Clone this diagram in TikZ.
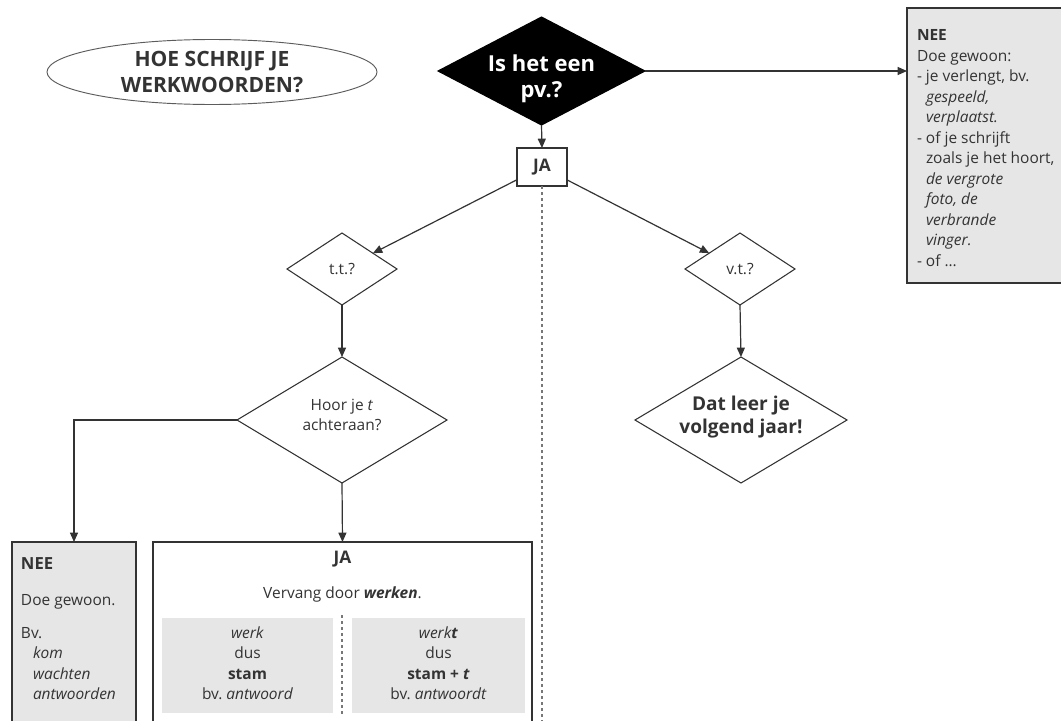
\documentclass[tikz,border=0pt]{standalone}
\usepackage{fontspec}
\setmainfont{Open Sans}
\usetikzlibrary{shapes.geometric,arrows.meta}
\definecolor{ink}{HTML}{333333}
\definecolor{boxfill}{HTML}{E6E6E6}
\definecolor{dashcol}{HTML}{777777}
\begin{document}
\begin{tikzpicture}[x=0.75pt,y=-0.75pt,
  every node/.style={inner sep=0pt, outer sep=0pt, text=ink},
  conn/.style={draw=ink, line width=0.9pt, -{Triangle[length=7pt,width=6pt]}},
  dia/.style={shape=diamond, draw=ink, line width=0.8pt, fill=white},
  boxn/.style={rectangle, draw=ink, line width=1pt, anchor=north west},
  greybox/.style={rectangle, fill=boxfill, anchor=north west},
  dashln/.style={draw=dashcol, line width=1.1pt, dash pattern=on 2.5pt off 2pt},
  txt/.style={font=\fontsize{11.6}{15.4}\selectfont, align=center},
  ltxt/.style={font=\fontsize{11.6}{15.4}\selectfont, anchor=base west},
  bigb/.style={font=\bfseries\fontsize{12.5}{15}\selectfont}
]
\useasboundingbox (0,0) rectangle (1061,721);
\fill[white] (0,0) rectangle (1061,721);
\clip (0,0) rectangle (1061,721);

% title
\node[ellipse, draw=ink!80, line width=0.7pt, minimum width=247.5pt, minimum height=48.75pt,
  font=\bfseries\fontsize{15.8}{19.5}\selectfont, align=center] (title) at (212,72) {HOE SCHRIJF JE\\WERKWOORDEN?};

% top decision
\node[dia, fill=black, draw=black, minimum width=155.25pt, minimum height=81pt] (pv) at (541.5,71) {};
\node[font=\bfseries\fontsize{16.5}{19.5}\selectfont, text=white, align=center] (pvt) at (541.5,79) {Is het een\\pv.?};

% JA small box
\node[rectangle, draw=ink, line width=1pt, fill=white, minimum width=37.5pt, minimum height=28.5pt,
  font=\bfseries\fontsize{13}{15}\selectfont] (ja) at (542,167) {JA};

% NEE right box
\node[boxn, fill=boxfill, minimum width=126pt, minimum height=206.25pt] (neer) at (907,8) {};
\node[txt, align=left, anchor=north west] (neert) at (917,29.5) {\textbf{NEE}\\Doe gewoon:\\- je verlengt, bv.\\\hphantom{- }\textit{gespeeld,}\\\hphantom{- }\textit{verplaatst.}\\- of je schrijft\\\hphantom{- }zoals je het hoort,\\\hphantom{- }\textit{de vergrote}\\\hphantom{- }\textit{foto, de}\\\hphantom{- }\textit{verbrande}\\\hphantom{- }\textit{vinger.}\\- of \dots};

% t.t. and v.t.
\node[dia, minimum width=82.5pt, minimum height=54pt] (tt) at (342,269) {};
\node[txt] (ttt) at (342,269) {t.t.?};
\node[dia, minimum width=82.5pt, minimum height=54pt] (vt) at (740,269) {};
\node[txt] (vtt) at (740,269) {v.t.?};

% Hoor je t
\node[dia, minimum width=157.5pt, minimum height=94.5pt] (hoor) at (342,420) {};
\node[txt] (hoort) at (342,415) {Hoor je \textit{t}\\achteraan?};

% Dat leer je
\node[dia, minimum width=159pt, minimum height=94.5pt] (dat) at (741,420) {};
\node[font=\bfseries\fontsize{14.3}{17.3}\selectfont, align=center] (datt) at (741,417) {Dat leer je\\volgend jaar!};

% bottom boxes
\node[boxn, fill=boxfill, minimum width=93pt, minimum height=141pt] (neel) at (12,542) {};
\node[boxn, fill=white, minimum width=284.25pt, minimum height=141pt] (jab) at (153,542) {};

\node[bigb, anchor=base west] (nl1) at (21,569) {NEE};
\node[ltxt] (nl2) at (21,605) {Doe gewoon.};
\node[ltxt] (nl3) at (21,638) {Bv.};
\node[ltxt] (nl4) at (33,658) {\textit{kom}};
\node[ltxt] (nl5) at (33,679) {\textit{wachten}};
\node[ltxt] (nl6) at (33,699) {\textit{antwoorden}};

\node[font=\bfseries\fontsize{13}{15}\selectfont, anchor=base] (jab1) at (342.5,563) {JA};
\node[txt, anchor=base] (jab2) at (342.5,598) {Vervang door \textbf{\textit{werken}}.};

\node[greybox, minimum width=128.25pt, minimum height=71.25pt] (gl) at (162,618) {};
\node[greybox, minimum width=129.75pt, minimum height=71.25pt] (gr) at (352,618) {};
\coordinate (dvt) at (342,615);
\coordinate (dvb) at (342,714);
\draw[dashln] (dvt) -- (dvb);

\node[txt, anchor=north] (glt) at (247.5,626.5) {\textit{werk}\\dus\\\textbf{stam}\\bv.~\textit{antwoord}};
\node[txt, anchor=north] (grt) at (438.5,626.5) {\textit{werk\textbf{t}}\\dus\\\textbf{stam + \textit{t}}\\bv.~\textit{antwoordt}};

% connectors
\coordinate (bot) at (542,730);
\draw[dashln] (ja.south) -- (bot);
\draw[conn] (pv.east) -- (pv.east -| neer.west);
\draw[conn] (pv.south) -- (ja.north);
\draw[conn] (ja) -- (tt);
\draw[conn] (ja) -- (vt);
\draw[conn] (tt.south) -- (hoor.north);
\draw[conn] (vt.south) -- (dat.north);
\draw[conn] (hoor.west) -| (neel.north);
\draw[conn] (hoor.south) -- (jab.north);
\end{tikzpicture}
\end{document}
